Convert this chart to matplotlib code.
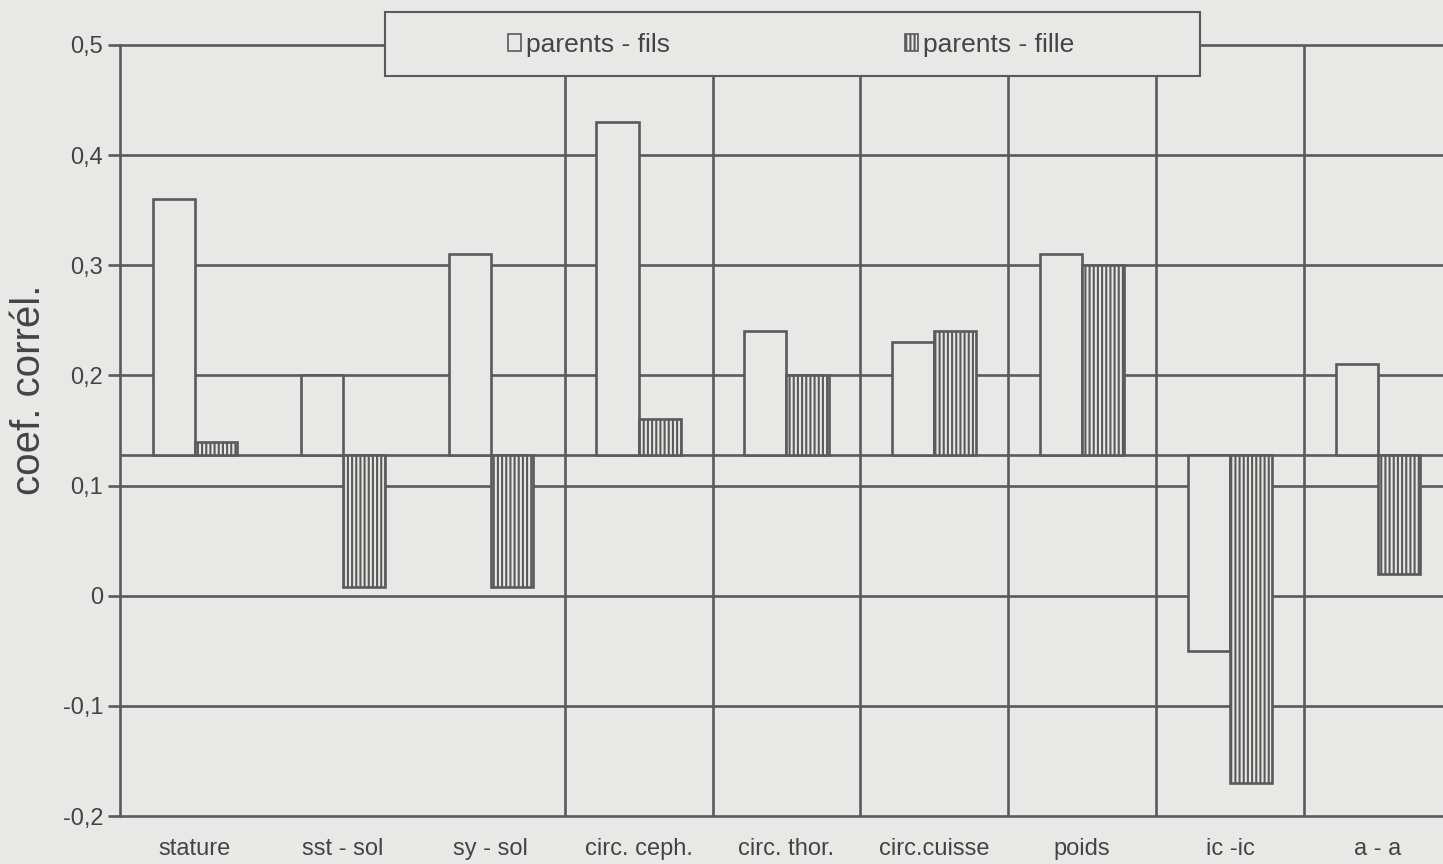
import matplotlib
matplotlib.use("Agg")
import matplotlib.pyplot as plt
from matplotlib.patches import Rectangle, Patch
import numpy as np

# donnees (coefficients de correlation)
categories = ['stature', 'sst - sol', 'sy - sol', 'circ. ceph.', 'circ. thor.',
              'circ.cuisse', 'poids', 'ic -ic', 'a - a']
parents_fils = [0.36, 0.20, 0.31, 0.43, 0.24, 0.23, 0.31, -0.05, 0.21]
parents_fille = [0.14, 0.008, 0.008, 0.16, 0.20, 0.24, 0.30, -0.17, 0.02]
baseline = 0.128
yticks = [-0.2, -0.1, 0, 0.1, 0.2, 0.3, 0.4, 0.5]
ytick_labels = ['-0,2', '-0,1', '0', '0,1', '0,2', '0,3', '0,4', '0,5']

bg = '#e8e8e6'
ink = '#5a5a5a'
txt = '#444444'
plt.rcParams['font.family'] = ['Liberation Sans', 'DejaVu Sans']
plt.rcParams['hatch.linewidth'] = 1.5
plt.rcParams['hatch.color'] = ink

fig = plt.figure(figsize=(14.43, 8.64), dpi=100, facecolor=bg)
ax = fig.add_axes([120 / 1443, 48 / 864, 1323 / 1443, 771 / 864])
ax.set_facecolor(bg)

x = np.arange(len(categories))
w = 0.285

# grille
for yv in yticks[1:]:
    ax.axhline(yv, color=ink, lw=1.9, zorder=1, clip_on=False)
ax.axhline(baseline, color=ink, lw=1.9, zorder=1)
ax.vlines(x[2:8] + 0.5, -0.2, 0.5, color=ink, lw=1.9, zorder=1)

# barres
ax.bar(x - w / 2, np.array(parents_fils) - baseline, w, bottom=baseline,
       facecolor=bg, edgecolor=ink, lw=1.9, zorder=3)
ax.bar(x + w / 2, np.array(parents_fille) - baseline, w, bottom=baseline,
       facecolor=bg, edgecolor=ink, lw=1.9, hatch='||||', zorder=3)

ax.set_xlim(-0.507, 8.44)
ax.set_ylim(-0.2, 0.5)
ax.set_yticks(yticks)
ax.set_yticklabels(ytick_labels)
ax.set_xticks(x)
ax.set_xticklabels(categories, fontsize=17, color=txt)
ax.tick_params(axis='y', length=9, width=1.9, color=ink, labelsize=17,
               labelcolor=txt, pad=3)
ax.tick_params(axis='x', length=0, pad=16)
for s in ['top', 'right']:
    ax.spines[s].set_visible(False)
for s in ['left', 'bottom']:
    ax.spines[s].set_color(ink)
    ax.spines[s].set_linewidth(1.9)

fig.text(29 / 1443, 1 - 390 / 864, 'coef. corrél.', rotation=90, ha='center',
         va='center', fontsize=29, color=txt)

# cadre de legende
ax.add_patch(Rectangle((0.2003, 0.96), 0.616, 0.083, transform=ax.transAxes,
                       facecolor=bg, edgecolor=ink, lw=1.5, zorder=5,
                       clip_on=False))
handles = [Patch(facecolor=bg, edgecolor=ink, lw=1.2),
           Patch(facecolor=bg, edgecolor=ink, lw=1.2, hatch='||||')]
leg = ax.legend(handles, ['parents - fils', 'parents - fille'], ncol=2,
                loc='center left', bbox_to_anchor=(0.275, 1.0), frameon=False,
                prop={'size': 19}, labelcolor=txt,
                handlelength=0.5, handleheight=0.6, handletextpad=0.2,
                columnspacing=8.9)
leg.set_zorder(6)

fig.savefig('out.png', dpi=100, facecolor=bg)
